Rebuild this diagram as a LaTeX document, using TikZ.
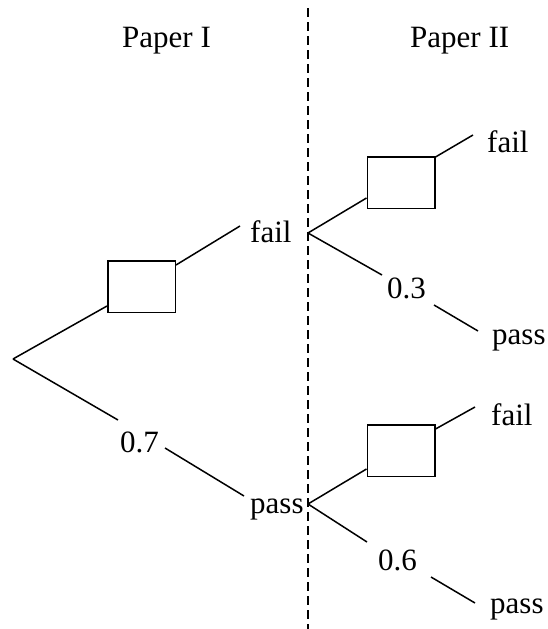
\documentclass[tikz,border=0pt]{standalone}
\usepackage{fontspec}
\setmainfont{Liberation Serif}
\usetikzlibrary{calc}
\begin{document}
\begin{tikzpicture}[x=1pt,y=-1pt,
  branch/.style={line width=1.5pt},
  blank/.style={draw,line width=1.5pt,minimum width=67.5pt,minimum height=51.5pt,inner sep=0pt},
  lbl/.style={inner sep=0pt,anchor=base west,font=\fontsize{31}{36}\selectfont},
  divider/.style={line width=1.5pt,dash pattern=on 9pt off 5pt}]
\useasboundingbox (0,0) rectangle (548,629);

% column headings and divider
\node[lbl] (h1) at (122,47) {Paper I};
\node[lbl] (h2) at (410,47) {Paper II};
\coordinate (dtop) at (308,8);
\coordinate (dbot) at (308,629);
\draw[divider] (dtop) -- (dbot);

% first paper
\coordinate (root) at (13,359);
\node[blank] (b1) at (141.5,286.5) {};
\node[lbl] (f1) at (250,242) {fail};
\node[lbl] (p07) at (120,452) {0.7};
\node[lbl] (s1) at (250,513) {pass};
\coordinate (f1end) at (240,226);
\coordinate (p07a) at (118,420);
\coordinate (p07b) at (165,448);
\coordinate (s1end) at (244,496);
\draw[branch] (root) -- ($(b1.south west)+(0,-7)$);
\draw[branch] ($(b1.north east)+(0,5)$) -- (f1end);
\draw[branch] (root) -- (p07a);
\draw[branch] (p07b) -- (s1end);

% second paper after a fail
\coordinate (v1) at (308,233);
\node[blank] (b2) at (401,182.5) {};
\node[lbl] (f2) at (487,152) {fail};
\node[lbl] (p03) at (387,298) {0.3};
\node[lbl] (s2) at (492,344) {pass};
\coordinate (f2end) at (473,135);
\coordinate (p03a) at (382,275);
\coordinate (p03b) at (434,305);
\coordinate (s2end) at (478,331);
\draw[branch] (v1) -- ($(b2.south west)+(0,-11)$);
\draw[branch] ($(b2.north east)+(0,1)$) -- (f2end);
\draw[branch] (v1) -- (p03a);
\draw[branch] (p03b) -- (s2end);

% second paper after a pass
\coordinate (v2) at (308,504);
\node[blank] (b3) at (401,450.5) {};
\node[lbl] (f3) at (491,425) {fail};
\node[lbl] (p06) at (378,570) {0.6};
\node[lbl] (s3) at (490,613) {pass};
\coordinate (f3end) at (475,407);
\coordinate (p06a) at (367,542);
\coordinate (p06b) at (431,577);
\coordinate (s3end) at (475,603);
\draw[branch] (v2) -- ($(b3.south west)+(0,-8)$);
\draw[branch] ($(b3.north east)+(0,5)$) -- (f3end);
\draw[branch] (v2) -- (p06a);
\draw[branch] (p06b) -- (s3end);
\end{tikzpicture}
\end{document}
